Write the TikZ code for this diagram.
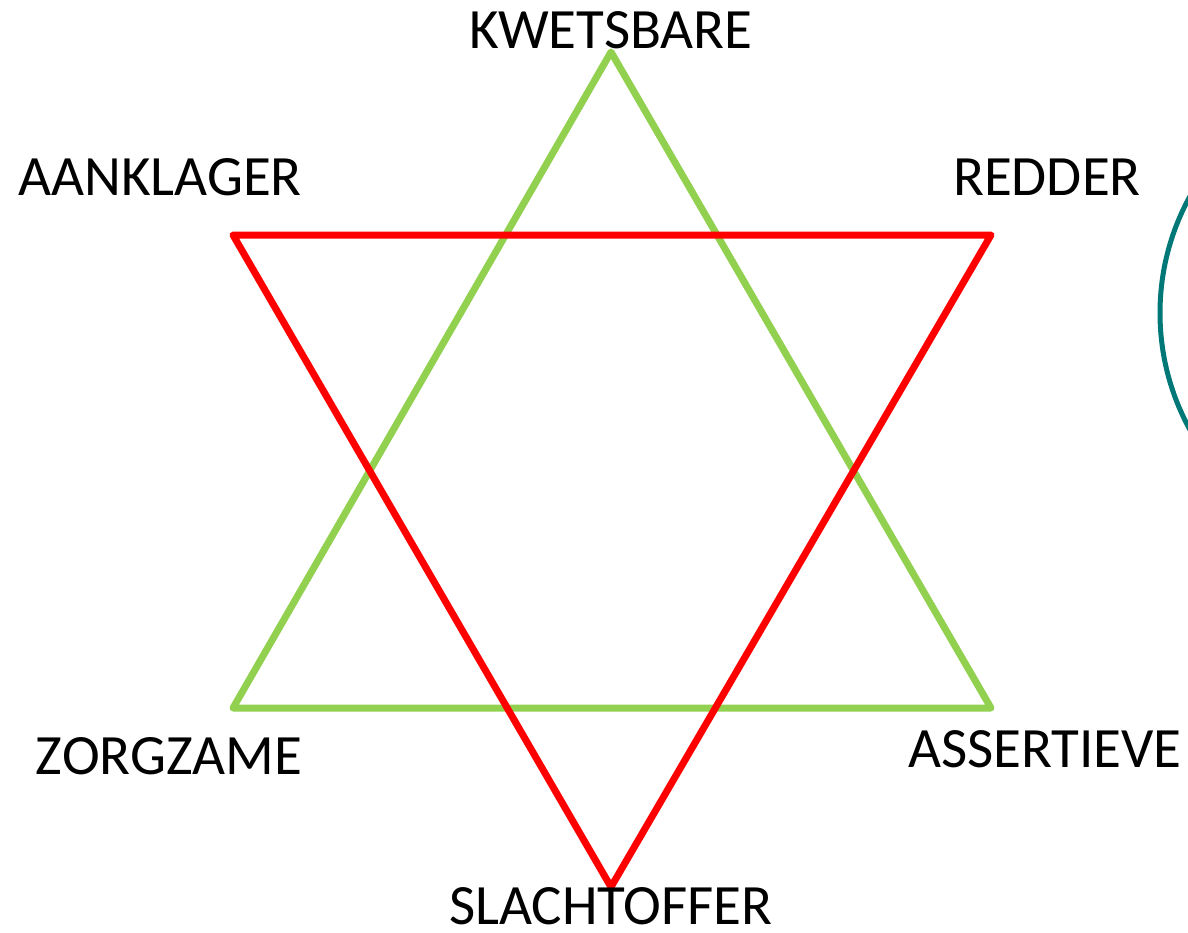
\documentclass[tikz,border=0pt]{standalone}
\usepackage{fontspec}
\setmainfont{Carlito}
\usepackage{xcolor}
\usetikzlibrary{calc}

\definecolor{stargreen}{RGB}{146,208,80}
\definecolor{starred}{RGB}{255,0,0}
\definecolor{arcteal}{RGB}{0,120,120}

\begin{document}
\begin{tikzpicture}[
    x=1pt, y=-1pt,
    role/.style={font=\fontsize{57}{62}\selectfont, anchor=base, inner sep=0pt, text depth=0pt},
    tri/.style={line width=7pt, line join=round},
  ]
  \useasboundingbox (0,0) rectangle (1188,932);

  % corners of the two triangles
  \coordinate (kw) at (611,52);
  \coordinate (zo) at (233,708);
  \coordinate (as) at (991,708);
  \coordinate (aa) at (233,235);
  \coordinate (re) at (991,235);
  \coordinate (sl) at (611,887);

  \draw[tri, stargreen] (kw) -- (as) -- (zo) -- cycle;
  \draw[tri, starred] (aa) -- (re) -- (sl) -- cycle;

  \node[role] (lkw) at (611,48) {KWETSBARE};
  \node[role] (laa) at (160,195) {AANKLAGER};
  \node[role] (lre) at (1047,195) {REDDER};
  \node[role] (lzo) at (169,774) {ZORGZAME};
  \node[role] (las) at (1045,767) {ASSERTIEVE};
  \node[role] (lsl) at (611,924) {SLACHTOFFER};

  % part of a circle, cut off at the right edge
  \begin{scope}
    \clip (0,0) rectangle (1188,932);
    \draw[arcteal, line width=5pt] (1402,313) circle[radius=242pt];
  \end{scope}
\end{tikzpicture}
\end{document}
